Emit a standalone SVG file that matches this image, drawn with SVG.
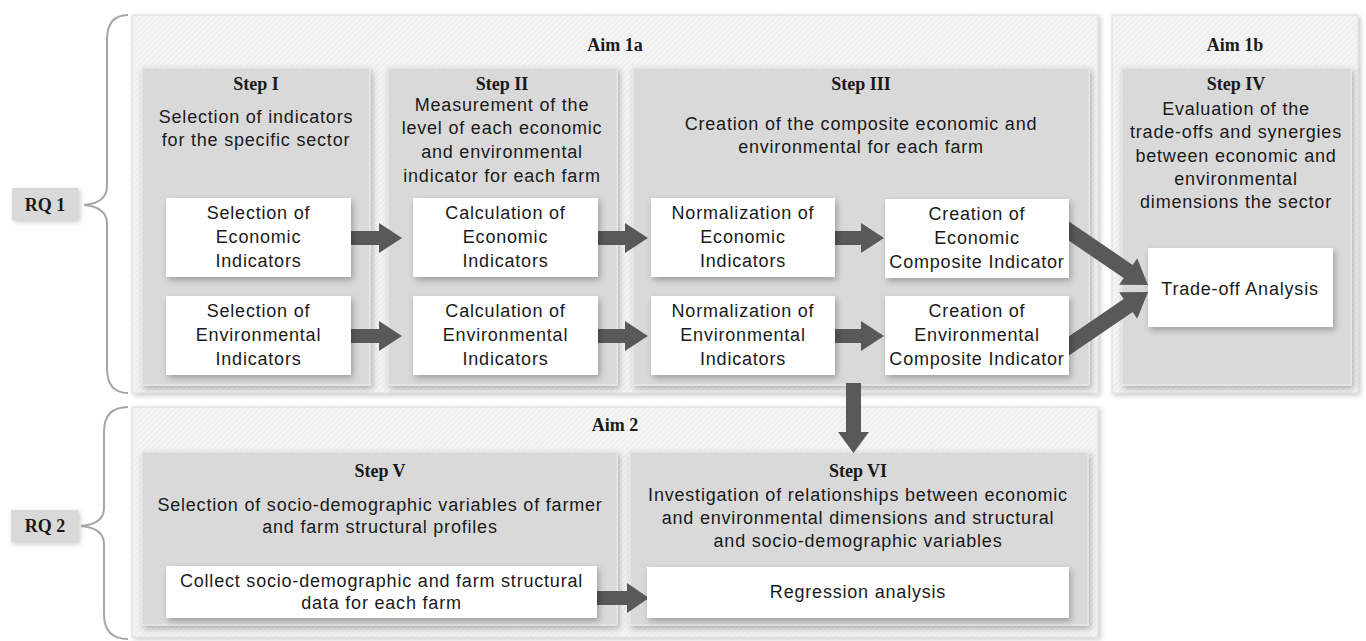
<svg xmlns="http://www.w3.org/2000/svg" width="1366" height="641" viewBox="0 0 1366 641">
<defs>
  <pattern id="hatch" width="4" height="4" patternUnits="userSpaceOnUse" patternTransform="rotate(45)">
    <rect width="4" height="4" fill="#f4f4f4"/>
    <line x1="0" y1="0" x2="0" y2="4" stroke="#e8e8e8" stroke-width="1.5"/>
  </pattern>
  <filter id="sh" x="-10%" y="-10%" width="120%" height="130%">
    <feDropShadow dx="2" dy="3" stdDeviation="3" flood-color="#000" flood-opacity="0.28"/>
  </filter>
  <filter id="shs" x="-10%" y="-10%" width="120%" height="130%">
    <feDropShadow dx="2" dy="2" stdDeviation="2.5" flood-color="#000" flood-opacity="0.22"/>
  </filter>
  <style>
    .aim { fill: url(#hatch); stroke: #dcdcdc; stroke-width: 1; filter: url(#shs); }
    .step { fill: #d9d9d9; stroke: #e6e6e6; stroke-width: 1.5; filter: url(#sh); }
    .lbl { fill: #d9d9d9; filter: url(#shs); }
    .box { fill: #ffffff; filter: url(#sh); }
    .ttl { font-family: "Liberation Serif", "DejaVu Serif", serif; font-weight: bold; font-size: 18px; fill: #1a1a1a; text-anchor: middle; }
    .txt { font-family: "Liberation Sans", Arial, sans-serif; font-size: 18px; fill: #1a1a1a; text-anchor: middle; letter-spacing: 0.8px; }
    .arr { fill: #595959; }
    .brace { fill: none; stroke: #a6a6a6; stroke-width: 2; }
  </style>
</defs>
<rect width="1366" height="641" fill="#ffffff"/>

<g id="rq1">
  <path class="brace" d="M128,15 Q107,15 107,40 L107,186 Q107,203 84,205 Q107,207 107,224 L107,368 Q107,393 128,393"/>
  <rect class="lbl" x="12" y="188" width="66" height="32"/>
  <text class="ttl" x="45" y="211">RQ 1</text>
</g>
<g id="rq2">
  <path class="brace" d="M128,407 Q104,407 104,432 L104,508 Q104,524 81,526 Q104,528 104,544 L104,614 Q104,639 128,639"/>
  <rect class="lbl" x="11" y="510" width="67" height="32"/>
  <text class="ttl" x="45" y="532">RQ 2</text>
</g>

<g id="aim1a">
  <rect class="aim" x="132" y="15" width="966" height="378"/>
  <text class="ttl" x="615" y="51">Aim 1a</text>
</g>
<g id="aim1b">
  <rect class="aim" x="1112" y="15" width="246" height="378"/>
  <text class="ttl" x="1235" y="51">Aim 1b</text>
</g>
<g id="aim2">
  <rect class="aim" x="132" y="407" width="966" height="230"/>
  <text class="ttl" x="615" y="431">Aim 2</text>
</g>

<g id="step1">
  <rect class="step" x="142" y="68" width="228" height="317"/>
  <text class="ttl" x="256" y="90">Step I</text>
  <text class="txt" x="256" y="123">Selection of indicators</text>
  <text class="txt" x="256" y="146">for the specific sector</text>
</g>
<g id="step2">
  <rect class="step" x="388" y="68" width="229" height="317"/>
  <text class="ttl" x="502" y="90">Step II</text>
  <text class="txt" x="502" y="111">Measurement of the</text>
  <text class="txt" x="502" y="134">level of each economic</text>
  <text class="txt" x="502" y="158">and environmental</text>
  <text class="txt" x="502" y="182">indicator for each farm</text>
</g>
<g id="step3">
  <rect class="step" x="633" y="68" width="456" height="317"/>
  <text class="ttl" x="861" y="90">Step III</text>
  <text class="txt" x="861" y="130">Creation of the composite economic and</text>
  <text class="txt" x="861" y="153">environmental for each farm</text>
</g>
<g id="step4">
  <rect class="step" x="1122" y="68" width="229" height="317"/>
  <text class="ttl" x="1236" y="90">Step IV</text>
  <text class="txt" x="1236" y="115">Evaluation of the</text>
  <text class="txt" x="1236" y="138">trade-offs and synergies</text>
  <text class="txt" x="1236" y="162">between economic and</text>
  <text class="txt" x="1236" y="185">environmental</text>
  <text class="txt" x="1236" y="208">dimensions the sector</text>
</g>
<g id="step5">
  <rect class="step" x="142" y="452" width="475" height="173"/>
  <text class="ttl" x="380" y="477">Step V</text>
  <text class="txt" x="380" y="511">Selection of socio-demographic variables of farmer</text>
  <text class="txt" x="380" y="533">and farm structural profiles</text>
</g>
<g id="step6">
  <rect class="step" x="630" y="452" width="458" height="173"/>
  <text class="ttl" x="858" y="477">Step VI</text>
  <text class="txt" x="858" y="501">Investigation of relationships between economic</text>
  <text class="txt" x="858" y="524">and environmental dimensions and structural</text>
  <text class="txt" x="858" y="547">and socio-demographic variables</text>
</g>

<g id="connectors">
  <path class="arr" d="M351,231 H379 V223 L402,238 L379,253 V245 H351 Z"/>
  <path class="arr" d="M351,329 H379 V321 L402,336 L379,351 V343 H351 Z"/>
  <path class="arr" d="M598,231 H625 V223 L648,238 L625,253 V245 H598 Z"/>
  <path class="arr" d="M598,329 H625 V321 L648,336 L625,351 V343 H598 Z"/>
  <path class="arr" d="M835,231 H861 V223 L884,238 L861,253 V245 H835 Z"/>
  <path class="arr" d="M835,329 H861 V321 L884,336 L861,351 V343 H835 Z"/>
  <polygon class="arr" points="1064.5,218.4 1132.7,264.9 1137.2,258.3 1148,285 1119.2,284.7 1123.7,278.1 1055.5,231.6"/>
  <polygon class="arr" points="1064.5,358.6 1132.7,312.1 1137.2,318.7 1148,292 1119.2,292.3 1123.7,298.9 1055.5,345.4"/>
  <path class="arr" d="M846,383 V432 H838 L853.5,453 L869,432 H861 V383 Z"/>
  <path class="arr" d="M597,591 H627 V583 L649,598 L627,613 V605 H597 Z"/>
</g>

<g id="selEcon">
  <rect class="box" x="166" y="198" width="185" height="79"/>
  <text class="txt" x="258.5" y="219">Selection of</text>
  <text class="txt" x="258.5" y="243">Economic</text>
  <text class="txt" x="258.5" y="267">Indicators</text>
</g>
<g id="selEnv">
  <rect class="box" x="166" y="296" width="185" height="79"/>
  <text class="txt" x="258.5" y="317">Selection of</text>
  <text class="txt" x="258.5" y="341">Environmental</text>
  <text class="txt" x="258.5" y="365">Indicators</text>
</g>
<g id="calcEcon">
  <rect class="box" x="413" y="198" width="185" height="79"/>
  <text class="txt" x="505.5" y="219">Calculation of</text>
  <text class="txt" x="505.5" y="243">Economic</text>
  <text class="txt" x="505.5" y="267">Indicators</text>
</g>
<g id="calcEnv">
  <rect class="box" x="413" y="296" width="185" height="79"/>
  <text class="txt" x="505.5" y="317">Calculation of</text>
  <text class="txt" x="505.5" y="341">Environmental</text>
  <text class="txt" x="505.5" y="365">Indicators</text>
</g>
<g id="normEcon">
  <rect class="box" x="651" y="198" width="184" height="79"/>
  <text class="txt" x="743" y="219">Normalization of</text>
  <text class="txt" x="743" y="243">Economic</text>
  <text class="txt" x="743" y="267">Indicators</text>
</g>
<g id="normEnv">
  <rect class="box" x="651" y="296" width="184" height="79"/>
  <text class="txt" x="743" y="317">Normalization of</text>
  <text class="txt" x="743" y="341">Environmental</text>
  <text class="txt" x="743" y="365">Indicators</text>
</g>
<g id="creaEcon">
  <rect class="box" x="885" y="199" width="184" height="79"/>
  <text class="txt" x="977" y="220">Creation of</text>
  <text class="txt" x="977" y="244">Economic</text>
  <text class="txt" x="977" y="268">Composite Indicator</text>
</g>
<g id="creaEnv">
  <rect class="box" x="885" y="296" width="184" height="79"/>
  <text class="txt" x="977" y="317">Creation of</text>
  <text class="txt" x="977" y="341">Environmental</text>
  <text class="txt" x="977" y="365">Composite Indicator</text>
</g>
<g id="tradeoff">
  <rect class="box" x="1148" y="248" width="185" height="79"/>
  <text class="txt" x="1240" y="295">Trade-off Analysis</text>
</g>
<g id="collect">
  <rect class="box" x="166" y="566" width="431" height="52"/>
  <text class="txt" x="381.5" y="587">Collect socio-demographic and farm structural</text>
  <text class="txt" x="381.5" y="609">data for each farm</text>
</g>
<g id="regression">
  <rect class="box" x="647" y="567" width="422" height="51"/>
  <text class="txt" x="858" y="598">Regression analysis</text>
</g>
</svg>
